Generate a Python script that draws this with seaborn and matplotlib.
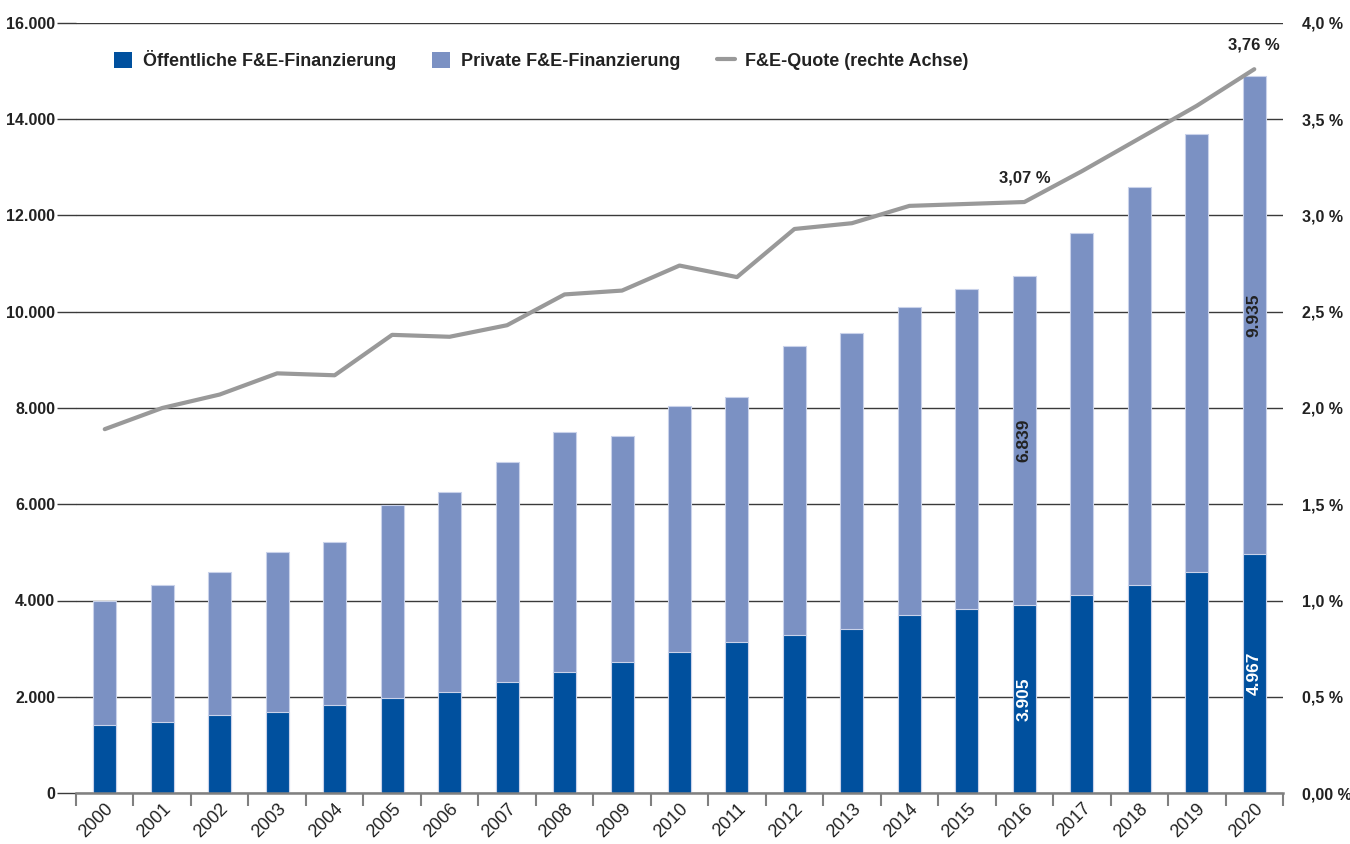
import matplotlib
matplotlib.use("Agg")
import matplotlib.pyplot as plt
import seaborn as sns
import numpy as np
import pandas as pd
from matplotlib.lines import Line2D
from matplotlib.patches import Patch

# ---- data ----
years = [str(y) for y in range(2000, 2021)]
public = [1420, 1475, 1627, 1690, 1835, 1981, 2099, 2313, 2521, 2729, 2936,
          3144, 3277, 3414, 3692, 3827, 3905, 4117, 4318, 4598, 4967]
private = [2575, 2841, 2965, 3311, 3381, 4009, 4149, 4558, 4974, 4689, 5112,
           5091, 6005, 6151, 6413, 6639, 6839, 7513, 8281, 9096, 9935]
quote = [1.89, 2.00, 2.07, 2.18, 2.17, 2.38, 2.37, 2.43, 2.59, 2.61, 2.74,
         2.68, 2.93, 2.96, 3.05, 3.06, 3.07, 3.23, 3.40, 3.57, 3.76]
left_ticks = [0, 2000, 4000, 6000, 8000, 10000, 12000, 14000, 16000]
left_labels = ["0", "2.000", "4.000", "6.000", "8.000", "10.000", "12.000", "14.000", "16.000"]
right_ticks = [0, 0.5, 1.0, 1.5, 2.0, 2.5, 3.0, 3.5, 4.0]
right_labels = ["0,00 %", "0,5 %", "1,0 %", "1,5 %", "2,0 %", "2,5 %", "3,0 %", "3,5 %", "4,0 %"]
legend_labels = ["Öffentliche F&E-Finanzierung", "Private F&E-Finanzierung", "F&E-Quote (rechte Achse)"]

C_PUB = "#00509E"
C_PRIV = "#7B91C3"
C_LINE = "#999999"
C_TXT = "#222222"

sns.set_theme(style="white")
plt.rcParams['font.family'] = ['Liberation Sans Narrow', 'Liberation Sans', 'DejaVu Sans']

df = pd.DataFrame({"year": years, "public": public, "private": private})
df["total"] = df["public"] + df["private"]

fig = plt.figure(figsize=(13.5, 8.44), dpi=100)
ax = fig.add_axes([76/1350, 1-793/844, 1207/1350, 770/844])

sns.barplot(data=df, x="year", y="total", color=C_PRIV, width=0.4, ax=ax,
            edgecolor="#C9D2EA", linewidth=0.8, saturation=1)
sns.barplot(data=df, x="year", y="public", color=C_PUB, width=0.4, ax=ax,
            edgecolor="#C9D2EA", linewidth=0.8, saturation=1)

ax.set_xlim(-0.5, 20.5)
ax.set_ylim(0, 16000)
ax.set_axisbelow(True)
ax.set_yticks(left_ticks)
ax.set_yticklabels(left_labels, fontsize=11.5, fontweight="bold", color=C_TXT)
ax.yaxis.grid(True, color="#3a3a3a", linewidth=1.0)
ax.tick_params(axis="y", length=13.5, color="#3a3a3a", width=1.0, pad=1.5)
ax.set_xlabel("")
ax.set_ylabel("")
for s in ["top", "right", "left"]:
    ax.spines[s].set_visible(False)
ax.spines["bottom"].set_color("#808080")
ax.spines["bottom"].set_linewidth(1.8)

ax.set_xticks(range(len(years)))
ax.set_xticklabels(years, rotation=45, ha="right", rotation_mode="anchor",
                   fontsize=13, color=C_TXT)
ax.set_xticks(np.arange(-0.5, 21, 1.0), minor=True)
ax.tick_params(axis="x", which="major", length=0, pad=5)
ax.tick_params(axis="x", which="minor", length=9, width=1.5, color="#808080", bottom=True)

# bar value labels for 2016 and 2020
for i in [16, 20]:
    ax.text(i, public[i] / 2, f"{public[i]:,}".replace(",", "."), rotation=90,
            ha="center", va="center", color="white", fontsize=12.5, fontweight="bold")
    ax.text(i, public[i] + private[i] / 2, f"{private[i]:,}".replace(",", "."), rotation=90,
            ha="center", va="center", color=C_TXT, fontsize=12.5, fontweight="bold")

ax2 = ax.twinx()
sns.lineplot(x=np.arange(len(years)), y=quote, ax=ax2, color=C_LINE, linewidth=3.0)
ax2.set_ylim(0, 4.0)
ax2.set_xlim(-0.5, 20.5)
ax2.set_yticks(right_ticks)
ax2.set_yticklabels(right_labels, fontsize=11.5, fontweight="bold", color=C_TXT)
ax2.tick_params(axis="y", length=0, pad=13.5)
for s in ["top", "right", "left", "bottom"]:
    ax2.spines[s].set_visible(False)

for i in [16, 20]:
    ax2.annotate(f"{quote[i]:.2f} %".replace(".", ","), (i, quote[i]),
                 xytext=(0, 12), textcoords="offset points", ha="center", va="bottom",
                 fontsize=12, fontweight="bold", color=C_TXT)

handles = [Patch(facecolor=C_PUB, edgecolor="none"),
           Patch(facecolor=C_PRIV, edgecolor="none"),
           Line2D([0], [0], color=C_LINE, linewidth=3.0)]
leg = ax2.legend(handles, legend_labels, loc="center left", bbox_to_anchor=(0.018, 0.952),
                 ncol=3, frameon=False, handlelength=1.0, handleheight=1.0,
                 columnspacing=2.0, handletextpad=0.6,
                 prop={"size": 13, "weight": "bold"})
for t in leg.get_texts():
    t.set_color(C_TXT)

fig.savefig("out.png", dpi=100)
